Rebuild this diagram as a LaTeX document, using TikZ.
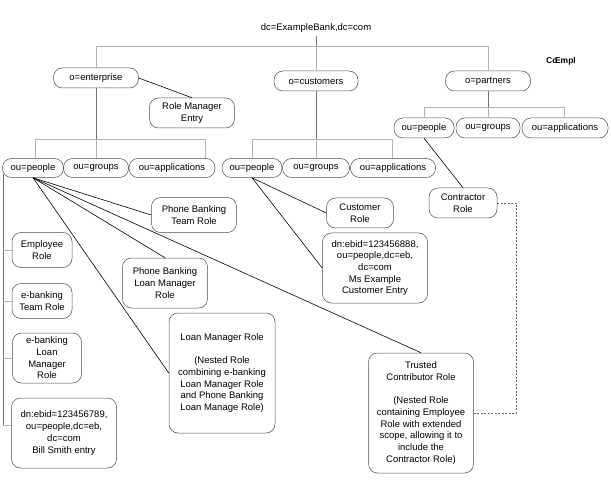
\documentclass[tikz,border=0pt]{standalone}
\usepackage{fontspec}
\setmainfont{Liberation Sans}
\usepackage{tikz}
\usetikzlibrary{calc, positioning}

\tikzset{
  entry/.style={draw=black!70, line width=0.5pt, rounded corners=9pt, align=center, inner sep=1pt},
  trunk/.style={draw=black!55, line width=0.5pt},
  bus/.style={draw=black!30, line width=0.5pt},
  link/.style={draw=black, line width=0.6pt},
  xref/.style={draw=black!60, line width=0.5pt, dash pattern=on 2pt off 1.5pt},
}

\begin{document}
\begin{tikzpicture}[x=1pt, y=-1pt, font=\fontsize{9.5}{11.7}\selectfont]
\useasboundingbox (0,0) rectangle (611,492);

% Raiz da arvore:
\node (root) at (316,28) {dc=ExampleBank,dc=com};
\node[font=\fontsize{8.5}{8.5}\selectfont\bfseries, inner sep=0pt] (stray) at (561,61) {Co\kern-2.5ptEmpl};

% Organizacoes:
\node[entry, minimum width=85pt, minimum height=20pt] (ent) at (96,78) {o=enterprise};
\node[entry, minimum width=84pt, minimum height=20pt] (cust) at (316,81) {o=customers};
\node[entry, minimum width=85pt, minimum height=20pt] (part) at (488,81) {o=partners};
\node[entry, minimum width=85pt, minimum height=30pt] (rme) at (192,113) {Role Manager\\Entry};

\draw[trunk] (root.south) -- ++(0,10) coordinate (hub);
\draw[bus] (ent.north) |- (hub) -| (part.north);
\draw[bus] (hub) -- (cust.north);
\draw[link] (ent.east) -- (rme.north);

% Unidades de o=enterprise:
\node[entry, minimum width=61pt, minimum height=19pt] (epeo) at (33,168) {ou=people};
\node[entry, minimum width=65pt, minimum height=19pt] (egrp) at (96,168) {ou=groups};
\node[entry, minimum width=86pt, minimum height=19pt] (eapp) at (172,168) {ou=applications};

\draw[trunk] (ent.south) -- ++(0,51) coordinate (ebus);
\draw[bus] (ebus) -- (egrp.north);
\draw[bus] ([xshift=2pt]epeo.north) |- (ebus) -| ([xshift=33pt]eapp.north);

% Unidades de o=customers:
\node[entry, minimum width=60pt, minimum height=19pt] (cpeo) at (252,168) {ou=people};
\node[entry, minimum width=67pt, minimum height=19pt] (cgrp) at (316,168) {ou=groups};
\node[entry, minimum width=85pt, minimum height=19pt] (capp) at (393,168) {ou=applications};

\draw[trunk] (cust.south) -- ++(0,48) coordinate (cbus);
\draw[bus] (cbus) -- (cgrp.north);
\draw[bus] (cpeo.north) |- (cbus) -| ([xshift=-1pt]capp.north);

% Unidades de o=partners:
\node[entry, minimum width=60pt, minimum height=20pt] (ppeo) at (424,128) {ou=people};
\node[entry, minimum width=64pt, minimum height=20pt] (pgrp) at (488,128) {ou=groups};
\node[entry, minimum width=86pt, minimum height=20pt] (papp) at (565,128) {ou=applications};

\draw[trunk] (part.south) -- ++(0,16) coordinate (pbus);
\draw[bus] (pbus) -- (pgrp.north);
\draw[bus] (ppeo.north) |- (pbus) -| ([xshift=-1pt]papp.north);

% Entradas sob ou=people (enterprise), coluna da esquerda:
\node[entry, minimum width=60pt, minimum height=35pt] (emp) at (42,250) {Employee\\Role};
\node[entry, minimum width=60pt, minimum height=35pt] (ebt) at (42,301) {e-banking\\Team Role};
\node[entry, minimum width=69pt, minimum height=50pt] (eblm) at (47,358) {e-banking\\Loan\\Manager\\Role};
\node[entry, minimum width=105pt, minimum height=70pt] (dnbill) at (64,433) {dn:ebid=123456789,\\ou=people,dc=eb,\\dc=com\\Bill Smith entry};

\coordinate (rail) at (3,174);
\coordinate (billtap) at ([yshift=8pt]dnbill.west);
\draw[trunk] (rail) -- (rail |- billtap);
\foreach \n in {emp,ebt,eblm} \draw[bus] (\n.west) -- (\n.west -| rail);
\draw[bus] (billtap) -- (billtap -| rail);

% Papeis ligados a ou=people (enterprise):
\node[entry, minimum width=85pt, minimum height=35pt] (pbtr) at (194,215) {Phone Banking\\Team Role};
\node[entry, minimum width=85pt, minimum height=50pt] (pblm) at (165,283) {Phone Banking\\Loan Manager\\Role};
\node[entry, minimum width=106pt, minimum height=120pt] (lmr) at (222,373) {Loan Manager Role\\[11.7pt](Nested Role\\combining e-banking\\Loan Manager Role\\and Phone Banking\\Loan Manage Role)};
\node[entry, minimum width=105pt, minimum height=120pt] (trust) at (421,413) {Trusted\\Contributor Role\\[11.7pt](Nested Role\\containing Employee\\Role with extended\\scope, allowing it to\\include the\\Contractor Role)};

\foreach \t/\a in {pbtr/west, pblm/north, lmr/west, trust/north}
  \draw[link] (epeo.south) -- (\t.\a);

% Entradas sob ou=people (customers):
\node[entry, minimum width=67pt, minimum height=30pt] (crole) at (360,213) {Customer\\Role};
\node[entry, minimum width=105pt, minimum height=70pt] (dnms) at (375,268) {dn:ebid=123456888,\\ou=people,dc=eb,\\dc=com\\Ms Example\\Customer Entry};

\draw[link] (cpeo.south) -- (crole.west);
\draw[link] (cpeo.south) -- (dnms.west);

% Entrada sob ou=people (partners) e a ligacao tracejada:
\node[entry, minimum width=68pt, minimum height=30pt] (contr) at (463,203) {Contractor\\Role};

\draw[link] (ppeo.south) -- (contr.north);
\draw[xref] (contr.east) -- ++(19,0) |- (trust.east);
\end{tikzpicture}
\end{document}
